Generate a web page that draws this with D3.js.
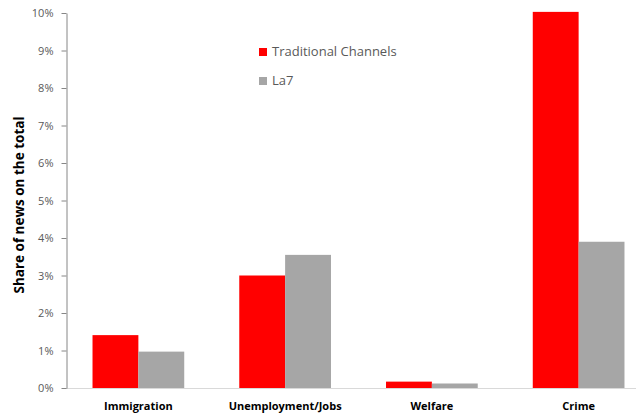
<!DOCTYPE html>
<html>
<head>
<meta charset="utf-8">
<script src="https://cdn.jsdelivr.net/npm/d3@7"></script>
<style>
  body { margin: 0; background: #fff; }
  text { font-family: "Open Sans", "Noto Sans", sans-serif; }
</style>
</head>
<body>
<div id="chart"></div>
<script>
let categories = ["Immigration", "Unemployment/Jobs", "Welfare", "Crime"];
let seriesNames = ["Traditional Channels", "La7"];
let traditional = [1.41, 3.0, 0.17, 10.03];
let la7 = [0.97, 3.55, 0.12, 3.9];
let yTicks = [0, 1, 2, 3, 4, 5, 6, 7, 8, 9, 10];
let colors = ["#ff0000", "#a6a6a6"];

let width = 636;
let height = 414;

let svg = d3.select("#chart")
    .append("svg")
    .attr("width", width)
    .attr("height", height);

svg.append("rect")
    .attr("fill", "#fff")
    .attr("width", "100%")
    .attr("height", "100%");

// scales - the plot runs past the right edge, like the original
let xScale = d3.scaleBand().domain(categories).range([65, 652]).paddingInner(0.375).paddingOuter(0.1875);
let inner = d3.scaleBand().domain(seriesNames).range([0, xScale.bandwidth()]);
let yScale = d3.scaleLinear().domain([0, 10]).range([388, 13]);

let rows = categories.map((c, i) => ({ cat: c, vals: [traditional[i], la7[i]] }));

// bars
let groups = svg.append("g")
    .selectAll("g")
    .data(rows)
    .join("g")
    .attr("transform", d => "translate(" + xScale(d.cat) + ",0)");

groups.selectAll("rect")
    .data(d => d.vals.map((v, j) => ({ name: seriesNames[j], v: v, j: j })))
    .join("rect")
    .attr("x", d => inner(d.name))
    .attr("width", inner.bandwidth())
    .attr("y", d => yScale(d.v))
    .attr("height", d => yScale(0) - yScale(d.v))
    .attr("fill", d => colors[d.j]);

// x axis line
svg.append("line")
    .attr("x1", 66).attr("x2", width)
    .attr("y1", yScale(0) + 0.5).attr("y2", yScale(0) + 0.5)
    .attr("stroke", "#d9d9d9");

// y axis
let yAxis = svg.append("g")
    .attr("transform", "translate(66.5,0)")
    .call(d3.axisLeft(yScale).tickValues(yTicks).tickSize(5).tickSizeOuter(0).tickFormat(d => d + "%"));
yAxis.select(".domain").attr("stroke", "#868686");
yAxis.selectAll(".tick line").attr("stroke", "#868686");
yAxis.selectAll(".tick text")
    .attr("x", -13)
    .attr("fill", "#595959")
    .style("font-size", "11px")
    .style("font-family", "'Open Sans', sans-serif");

// category labels
svg.append("g")
    .selectAll("text")
    .data(categories)
    .join("text")
    .attr("x", d => xScale(d) + xScale.bandwidth() / 2)
    .attr("y", 410)
    .attr("text-anchor", "middle")
    .attr("font-weight", "bold")
    .attr("font-size", "11px")
    .attr("fill", "#000")
    .text(d => d);

// y label
svg.append("text")
    .attr("transform", "translate(24," + 205 + ") rotate(270)")
    .attr("text-anchor", "middle")
    .attr("font-weight", "bold")
    .attr("font-size", "13.5px")
    .attr("fill", "#000")
    .text("Share of news on the total");

// legend
let legend = svg.append("g")
    .selectAll("g")
    .data(seriesNames)
    .join("g")
    .attr("transform", (d, i) => "translate(259," + (48 + i * 29) + ")");

legend.append("rect")
    .attr("width", 8)
    .attr("height", 8)
    .attr("fill", (d, i) => colors[i]);

legend.append("text")
    .attr("x", 13)
    .attr("y", 8)
    .attr("font-size", "13px")
    .attr("fill", "#595959")
    .text(d => d);
</script>
</body>
</html>
